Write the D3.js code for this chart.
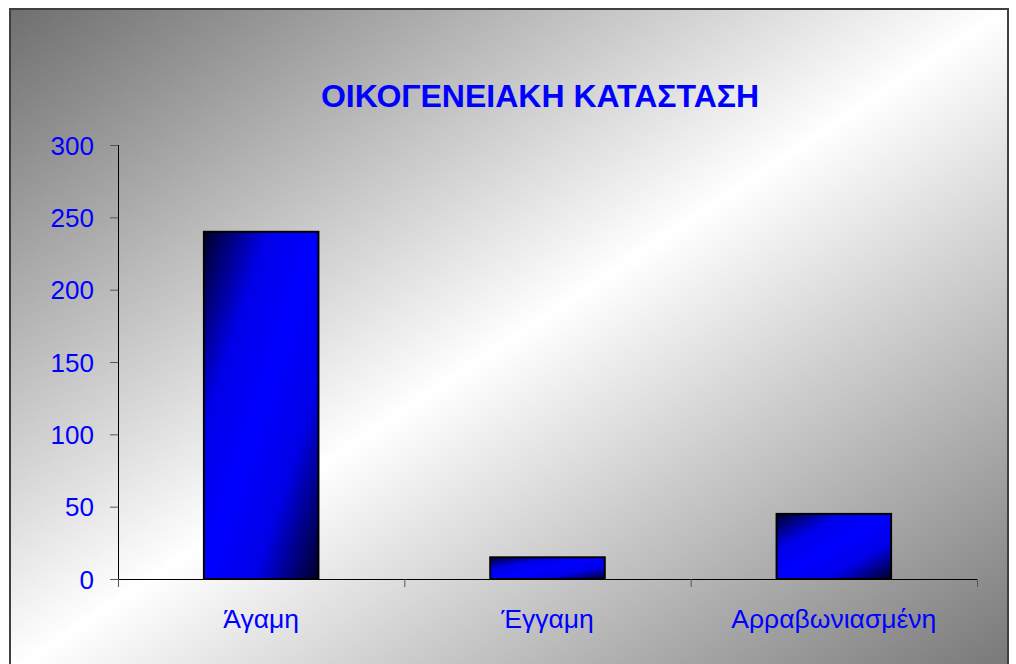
<!DOCTYPE html>
<html>
<head>
<meta charset="utf-8">
<script src="https://cdn.jsdelivr.net/npm/d3@7"></script>
<style>
  body { margin: 0; background: #ffffff; }
  svg { display: block; }
</style>
</head>
<body>
<div id="chart"></div>
<script>
const categories = ["Άγαμη", "Έγγαμη", "Αρραβωνιασμένη"];
const values = [240, 15, 45];
const yTicks = [0, 50, 100, 150, 200, 250, 300];
const title = "ΟΙΚΟΓΕΝΕΙΑΚΗ ΚΑΤΑΣΤΑΣΗ";

const svgWidth = 1016;
const svgHeight = 664;
const plot = { left: 118, right: 977, top: 145, bottom: 579 };

const svg = d3.select("#chart")
    .append("svg")
    .attr("width", svgWidth)
    .attr("height", svgHeight);

const defs = svg.append("defs");

// grey -> white -> grey diagonal background
const bg = defs.append("linearGradient")
    .attr("id", "bgGrad")
    .attr("x1", 0).attr("y1", 0)
    .attr("x2", 1).attr("y2", 1);
bg.append("stop").attr("offset", "0%").attr("stop-color", "#6f6f6f");
bg.append("stop").attr("offset", "50%").attr("stop-color", "#ffffff");
bg.append("stop").attr("offset", "100%").attr("stop-color", "#777777");

// dark corners, blue middle
const barGrad = defs.append("linearGradient")
    .attr("id", "barGrad")
    .attr("x1", 0).attr("y1", 0)
    .attr("x2", 1).attr("y2", 1);
barGrad.append("stop").attr("offset", "0%").attr("stop-color", "#000028");
barGrad.append("stop").attr("offset", "28%").attr("stop-color", "#0000e8");
barGrad.append("stop").attr("offset", "50%").attr("stop-color", "#0000ff");
barGrad.append("stop").attr("offset", "72%").attr("stop-color", "#0000e8");
barGrad.append("stop").attr("offset", "100%").attr("stop-color", "#000028");

svg.append("rect")
    .attr("x", 10)
    .attr("y", 9)
    .attr("width", 998)
    .attr("height", 664)
    .attr("fill", "url(#bgGrad)")
    .attr("stroke", "#404040")
    .attr("stroke-width", 2);

svg.append("text")
    .attr("x", 540)
    .attr("y", 107)
    .attr("text-anchor", "middle")
    .attr("font-family", "Liberation Sans, Arial, sans-serif")
    .attr("font-weight", "bold")
    .attr("font-size", "32px")
    .attr("fill", "#0000ff")
    .text(title);

const xScale = d3.scaleBand()
    .domain(categories)
    .range([plot.left, plot.right])
    .paddingInner(0)
    .paddingOuter(0);

const yScale = d3.scaleLinear()
    .domain([0, 300])
    .range([plot.bottom, plot.top]);

const barWidth = xScale.bandwidth() * 0.4;

// y axis
svg.append("g")
    .attr("transform", "translate(" + plot.left + ",0)")
    .call(d3.axisLeft(yScale)
        .tickValues(yTicks)
        .tickSize(8)
        .tickPadding(16))
    .call(g => {
        g.select(".domain")
            .attr("d", "M0.5," + plot.top + "V" + plot.bottom)
            .attr("stroke", "#000000");
        g.selectAll("line").attr("stroke", "#555555");
        g.selectAll("text")
            .attr("font-family", "Liberation Sans, Arial, sans-serif")
            .attr("font-size", "26px")
            .attr("fill", "#0000ff")
            .attr("dy", "0.35em");
    });

// x axis, ticks at category boundaries
const boundaries = categories.map(c => xScale(c)).concat([plot.right]);
const xAxis = svg.append("g")
    .attr("transform", "translate(0," + plot.bottom + ")");
xAxis.append("line")
    .attr("x1", plot.left)
    .attr("x2", plot.right)
    .attr("y1", 0.5)
    .attr("y2", 0.5)
    .attr("stroke", "#000000");
xAxis.selectAll(".tick")
    .data(boundaries)
    .enter()
    .append("line")
    .attr("x1", d => d + 0.5)
    .attr("x2", d => d + 0.5)
    .attr("y1", 0)
    .attr("y2", 8)
    .attr("stroke", "#555555");
xAxis.selectAll(".label")
    .data(categories)
    .enter()
    .append("text")
    .attr("x", d => xScale(d) + xScale.bandwidth() / 2)
    .attr("y", 49)
    .attr("text-anchor", "middle")
    .attr("font-family", "Liberation Sans, Arial, sans-serif")
    .attr("font-size", "26.5px")
    .attr("fill", "#0000ff")
    .text(d => d);

// bars
svg.append("g")
    .selectAll("rect")
    .data(values)
    .enter()
    .append("rect")
    .attr("x", (d, i) => xScale(categories[i]) + (xScale.bandwidth() - barWidth) / 2)
    .attr("y", d => yScale(d))
    .attr("width", barWidth)
    .attr("height", d => plot.bottom - yScale(d))
    .attr("fill", "url(#barGrad)")
    .attr("stroke", "#000000")
    .attr("stroke-width", 2);
</script>
</body>
</html>
